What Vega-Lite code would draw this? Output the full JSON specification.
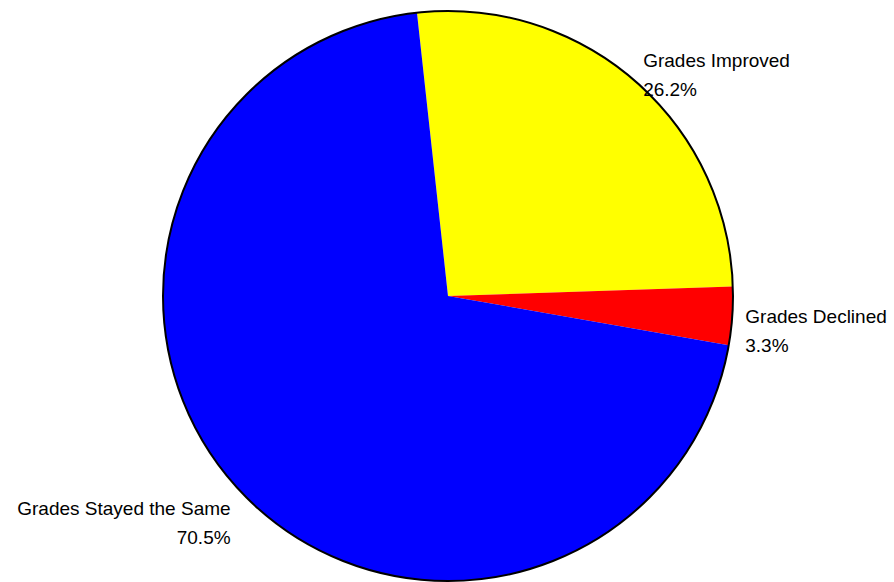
{
  "$schema": "https://vega.github.io/schema/vega-lite/v6.json",
  "autosize": "none",
  "padding": 0,
  "width": 896,
  "height": 592,
  "background": "white",
  "view": {"stroke": null},
  "data": {
    "values": [
      {"category": "Grades Improved", "pct": 26.2},
      {"category": "Grades Declined", "pct": 3.3},
      {"category": "Grades Stayed the Same", "pct": 70.5}
    ]
  },
  "layer": [
    {
      "mark": {"type": "arc", "radius": 285, "stroke": null},
      "encoding": {
        "theta": {"field": "pct", "type": "quantitative", "stack": true, "scale": {"range": [1.7444, 8.0276]}},
        "order": {"field": "category", "sort": "descending"},
        "color": {
          "field": "category",
          "type": "nominal",
          "scale": {"domain": ["Grades Improved", "Grades Declined", "Grades Stayed the Same"], "range": ["#FFFF00", "#FF0000", "#0000FF"]},
          "legend": null
        }
      }
    },
    {
      "transform": [{"aggregate": [{"op": "sum", "field": "pct", "as": "total"}]}],
      "mark": {"type": "arc", "radius": 285, "theta": 0, "theta2": 6.2832, "fill": null, "fillOpacity": 0, "stroke": "black", "strokeWidth": 2},
      "encoding": {}
    },
    {
      "transform": [{"calculate": "datum.category + '\\n' + format(datum.pct, '.1f') + '%'", "as": "label"}],
      "mark": {
        "type": "text",
        "radius": 298,
        "font": "Liberation Sans",
        "fontSize": 19,
        "lineBreak": "\n",
        "lineHeight": 29,
        "color": "black",
        "align": {"expr": "datum.category === 'Grades Stayed the Same' ? 'right' : 'left'"},
        "baseline": {"expr": "datum.category === 'Grades Stayed the Same' ? 'top' : datum.category === 'Grades Improved' ? 'bottom' : 'middle'"}
      },
      "encoding": {
        "theta": {"field": "pct", "type": "quantitative", "stack": true, "scale": {"range": [1.7444, 8.0276]}},
        "order": {"field": "category", "sort": "descending"},
        "text": {"field": "label", "type": "nominal"}
      }
    }
  ]
}
